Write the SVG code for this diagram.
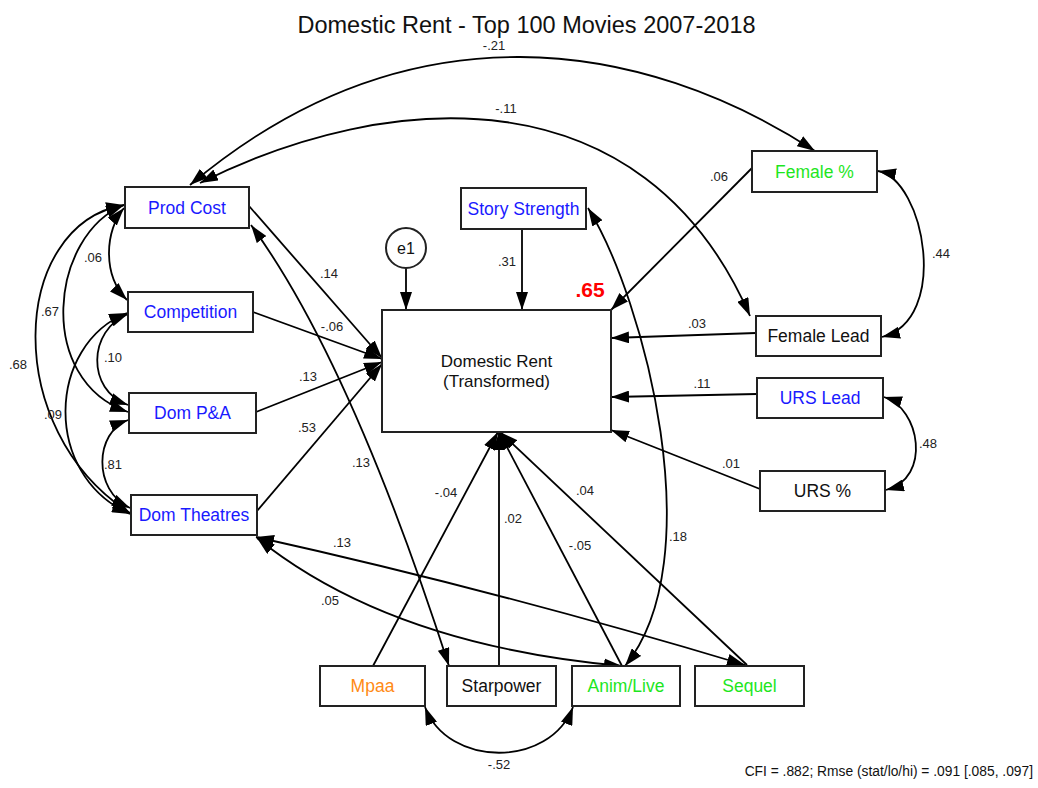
<svg xmlns="http://www.w3.org/2000/svg" width="1038" height="788" viewBox="0 0 1038 788">
<style>
.box{fill:#fff;stroke:#222;stroke-width:2}
.t{font-family:"Liberation Sans",Arial,sans-serif;font-size:17.5px;text-anchor:middle}
.blue{fill:#1a1aff}.green{fill:#1ee61e}.orange{fill:#ff8a14}.black{fill:#111}
.lbl{font-family:"Liberation Sans",Arial,sans-serif;font-size:13px;text-anchor:middle;fill:#222}
.c{fill:none;stroke:#000;stroke-width:1.8}
.one{marker-end:url(#ah)}
.two{marker-start:url(#ah);marker-end:url(#ah)}
</style>
<defs>
<marker id="ah" markerUnits="userSpaceOnUse" markerWidth="18" markerHeight="12" refX="18" refY="6" orient="auto-start-reverse"><path d="M0,0 L18,6 L0,12 z" fill="#000"/></marker>
</defs>
<rect width="1038" height="788" fill="#fff"/>
<text x="526.5" y="33" style="font-family:'Liberation Sans',Arial,sans-serif;font-size:23.5px;text-anchor:middle;fill:#111">Domestic Rent - Top 100 Movies 2007-2018</text>

<g id="connectors">
<path class="c two" d="M190,185 C409,1 643,39 815,151"/>
<path class="c two" d="M200,183 C387,89 643,70 750,316"/>
<path class="c one" d="M752,168 L611,310"/>
<path class="c one" d="M522,229 L522,310"/>
<path class="c one" d="M406,268 L406,310"/>
<path class="c one" d="M249,206 L382,358"/>
<path class="c one" d="M253,312 L382,359"/>
<path class="c one" d="M256,412 L382,362"/>
<path class="c one" d="M257,511 L382,364"/>
<path class="c one" d="M756,333 L611,338"/>
<path class="c one" d="M757,394 L611,397"/>
<path class="c one" d="M760,489 L611,430"/>
<path class="c one" d="M373,666 L498,432"/>
<path class="c one" d="M499,666 L499,432"/>
<path class="c one" d="M622,666 L499,432"/>
<path class="c one" d="M747,665 L500,432"/>
<path class="c two" d="M251,225 Q350,360 449,666"/>
<path class="c two" d="M256,537 Q495,590 745,665"/>
<path class="c two" d="M257,538 Q390,645 622,666"/>
<path class="c two" d="M588,208 C645,300 712,560 625,666"/>
<path class="c two" d="M878,171 C925,180 950,320 882,337"/>
<path class="c two" d="M884,397 C920,408 932,478 886,490"/>
<path class="c two" d="M425,707 C448,768 550,768 573,707"/>
<path class="c two" d="M124,208 C105,230 102,275 127,300"/>
<path class="c two" d="M124,205 C50,235 35,380 128,412"/>
<path class="c two" d="M124,205 C10,225 0,430 130,513"/>
<path class="c two" d="M128,314 C88,330 86,390 128,405"/>
<path class="c two" d="M127,313 C47,345 42,475 130,514"/>
<path class="c two" d="M128,420 C95,432 92,490 130,508"/>
<g id="labels">
<text class="lbl" x="494" y="50">-.21</text>
<text class="lbl" x="506" y="113">-.11</text>
<text class="lbl" x="719" y="181">.06</text>
<text class="lbl" x="329" y="278">.14</text>
<text class="lbl" x="507" y="266">.31</text>
<text class="lbl" x="93" y="262">.06</text>
<text class="lbl" x="50" y="316">.67</text>
<text class="lbl" x="18" y="369">.68</text>
<text class="lbl" x="113" y="362">.10</text>
<text class="lbl" x="53" y="419">.09</text>
<text class="lbl" x="113" y="469">.81</text>
<text class="lbl" x="332" y="331">-.06</text>
<text class="lbl" x="308" y="381">.13</text>
<text class="lbl" x="307" y="432">.53</text>
<text class="lbl" x="361" y="467">.13</text>
<text class="lbl" x="342" y="547">.13</text>
<text class="lbl" x="330" y="605">.05</text>
<text class="lbl" x="697" y="328">.03</text>
<text class="lbl" x="702" y="388">.11</text>
<text class="lbl" x="731" y="468">.01</text>
<text class="lbl" x="928" y="448">.48</text>
<text class="lbl" x="941" y="258">.44</text>
<text class="lbl" x="446" y="497">-.04</text>
<text class="lbl" x="513" y="523">.02</text>
<text class="lbl" x="585" y="495">.04</text>
<text class="lbl" x="580" y="550">-.05</text>
<text class="lbl" x="678" y="541">.18</text>
<text class="lbl" x="499" y="769">-.52</text>
<text x="590" y="297" style="font-family:'Liberation Sans',Arial,sans-serif;font-size:21px;font-weight:bold;text-anchor:middle;fill:#ff0000">.65</text>
</g>
</g>

<g id="prod-cost"><rect class="box" x="125" y="187" width="124" height="41"/><text class="t blue" x="187" y="214">Prod Cost</text></g>
<g id="story-strength"><rect class="box" x="461" y="188" width="125" height="41"/><text class="t blue" x="523.5" y="215">Story Strength</text></g>
<g id="female-pct"><rect class="box" x="752" y="151" width="125" height="41"/><text class="t green" x="814.5" y="178">Female %</text></g>
<g id="e1"><circle cx="406" cy="248" r="20" fill="#fff" stroke="#222" stroke-width="2"/><text class="t black" x="406" y="254" style="font-size:16px">e1</text></g>
<g id="competition"><rect class="box" x="128" y="292" width="125" height="40"/><text class="t blue" x="190.5" y="318">Competition</text></g>
<g id="dom-pa"><rect class="box" x="129" y="393" width="127" height="40"/><text class="t blue" x="192.5" y="419">Dom P&amp;A</text></g>
<g id="dom-theatres"><rect class="box" x="131" y="495" width="126" height="40"/><text class="t blue" x="194" y="521">Dom Theatres</text></g>
<g id="domestic-rent"><rect class="box" x="382" y="310" width="229" height="122"/><text class="t black" x="496.5" y="367" style="font-size:17px">Domestic Rent</text><text class="t black" x="496.5" y="387" style="font-size:17px">(Transformed)</text></g>
<g id="female-lead"><rect class="box" x="756" y="316" width="125" height="40"/><text class="t black" x="818.5" y="342">Female Lead</text></g>
<g id="urs-lead"><rect class="box" x="757" y="378" width="126" height="40"/><text class="t blue" x="820" y="404">URS Lead</text></g>
<g id="urs-pct"><rect class="box" x="760" y="471" width="125" height="40"/><text class="t black" x="822.5" y="497">URS %</text></g>
<g id="mpaa"><rect class="box" x="320" y="666" width="105" height="40"/><text class="t orange" x="372.5" y="692">Mpaa</text></g>
<g id="starpower"><rect class="box" x="447" y="666" width="109" height="40"/><text class="t black" x="501.5" y="692">Starpower</text></g>
<g id="anim-live"><rect class="box" x="572" y="666" width="108" height="40"/><text class="t green" x="626" y="692">Anim/Live</text></g>
<g id="sequel"><rect class="box" x="695" y="666" width="109" height="40"/><text class="t green" x="749.5" y="692">Sequel</text></g>

<text x="1033" y="776" style="font-family:'Liberation Sans',Arial,sans-serif;font-size:13.8px;text-anchor:end;fill:#111">CFI = .882; Rmse (stat/lo/hi) = .091 [.085, .097]</text>
</svg>
